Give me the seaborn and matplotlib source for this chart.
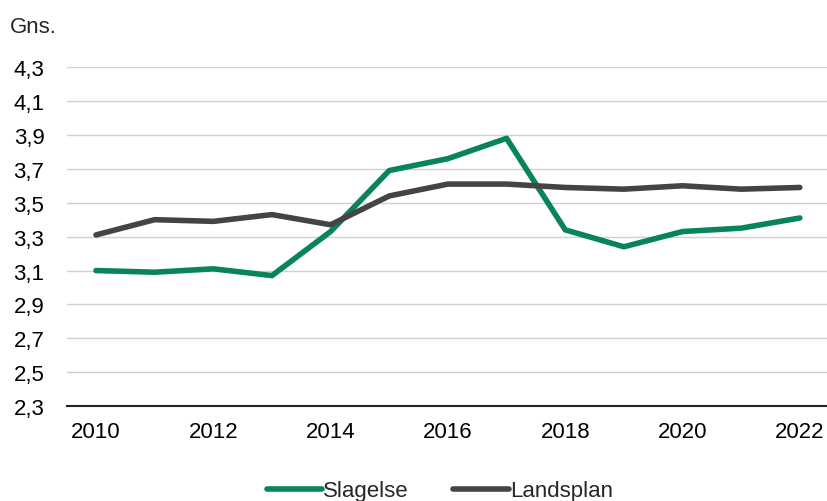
import matplotlib
matplotlib.use("Agg")
import matplotlib.pyplot as plt
import matplotlib.ticker as mticker
import pandas as pd
import seaborn as sns

years = list(range(2010, 2023))
slagelse = [3.10, 3.09, 3.11, 3.07, 3.33, 3.69, 3.76, 3.88, 3.34, 3.24, 3.33, 3.35, 3.41]
landsplan = [3.31, 3.40, 3.39, 3.43, 3.37, 3.54, 3.61, 3.61, 3.59, 3.58, 3.60, 3.58, 3.59]
series_names = ["Slagelse", "Landsplan"]
colors = ["#078556", "#444444"]
y_ticks = [2.3, 2.5, 2.7, 2.9, 3.1, 3.3, 3.5, 3.7, 3.9, 4.1, 4.3]
x_ticks = [2010, 2012, 2014, 2016, 2018, 2020, 2022]

df = pd.DataFrame({
    "year": years * 2,
    "value": slagelse + landsplan,
    "serie": [series_names[0]] * len(years) + [series_names[1]] * len(years),
})

sns.set_style("white")
plt.rcParams["font.family"] = ["Liberation Sans", "DejaVu Sans"]

fig = plt.figure(figsize=(8.28, 5.02), dpi=100)
ax = fig.add_axes([0.0805, 0.189, 0.9195, 0.6753])

sns.lineplot(data=df, x="year", y="value", hue="serie", palette=colors,
             linewidth=4.0, ax=ax, legend=True)

ax.set_xlim(2009.5, 2022.48)
ax.set_ylim(2.3, 4.3)
ax.set_yticks(y_ticks)
ax.set_xticks(x_ticks)
ax.yaxis.set_major_formatter(mticker.FuncFormatter(lambda v, p: f"{v:.1f}".replace(".", ",")))
ax.grid(axis="y", color="#d0d0d0", linewidth=1)
ax.set_axisbelow(True)
for s in ["top", "right", "left"]:
    ax.spines[s].set_visible(False)
ax.spines["bottom"].set_color("#222222")
ax.spines["bottom"].set_linewidth(1.5)
ax.tick_params(axis="both", length=0, labelsize=16, colors="black")
ax.tick_params(axis="y", pad=16)
ax.tick_params(axis="x", pad=11)
ax.set_xlabel("")
ax.set_ylabel("")

fig.text(0.012, 0.945, "Gns.", fontsize=16, ha="left", va="center")

handles, labels = ax.get_legend_handles_labels()
ax.legend(handles, labels, loc="center", bbox_to_anchor=(0.49, -0.25),
          ncol=2, frameon=False, fontsize=16, handlelength=2.5,
          handletextpad=0.05, columnspacing=2.0, borderaxespad=0)

fig.savefig("out.png", dpi=100)
